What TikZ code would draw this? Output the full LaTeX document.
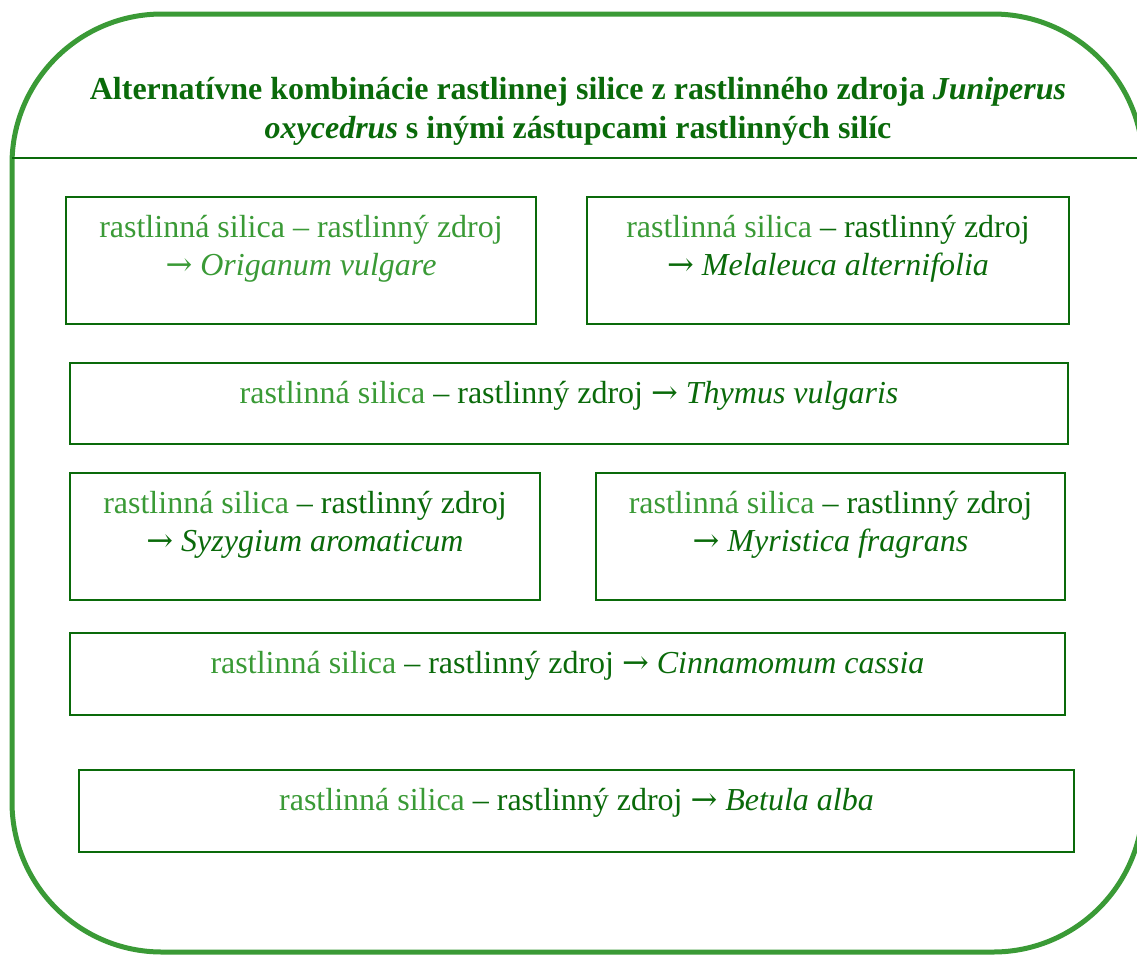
\documentclass[tikz,border=0pt]{standalone}
\usepackage{fontspec}
\setmainfont{Liberation Serif}
\newfontfamily\sipkafont{DejaVu Serif}
\newcommand{\sipka}{{\sipkafont →}}
\usetikzlibrary{positioning}
\definecolor{silicaGreen}{HTML}{3A9A36}
\definecolor{zdrojGreen}{HTML}{0A6A0A}

\begin{document}
\begin{tikzpicture}[x=1pt, y=-1pt,
    frame/.style={draw=silicaGreen, line width=5pt, rounded corners=150pt},
    kombobox/.style={draw=zdrojGreen, line width=1.6pt, inner sep=0pt},
    kombotext/.style={text=zdrojGreen, align=center, inner sep=0pt, font=\fontsize{32}{38}\selectfont},
    nadpis/.style={text=zdrojGreen, align=center, inner sep=0pt, font=\bfseries\fontsize{32}{39}\selectfont}]
    \useasboundingbox (0, 0) rectangle (1137, 956);
    \clip (0, 0) rectangle (1137, 956);

    % outer frame and title
    \draw[frame] (12, 14) rectangle (1143, 952);
    \draw[zdrojGreen, line width=1.6pt] (12, 158) -- (1137, 158);
    \node[nadpis] (titul) at (578, 111) {Alternatívne kombinácie rastlinnej silice z rastlinného zdroja \textit{Juniperus}\\ \textit{oxycedrus} s inými zástupcami rastlinných silíc};

    % boxes
    \node[kombobox, minimum width=470, minimum height=127] (origanum) at (301, 260.5) {};
    \node[kombobox, minimum width=482, minimum height=127] (melaleuca) at (828, 260.5) {};
    \node[kombobox, minimum width=998, minimum height=81] (thymus) at (569, 403.5) {};
    \node[kombobox, minimum width=470, minimum height=127] (syzygium) at (305, 536.5) {};
    \node[kombobox, minimum width=469, minimum height=127] (myristica) at (830.5, 536.5) {};
    \node[kombobox, minimum width=995, minimum height=82] (cinnamomum) at (567.5, 674) {};
    \node[kombobox, minimum width=995, minimum height=82] (betula) at (576.5, 811) {};

    % texts
    \node[kombotext, text=silicaGreen, below=19pt of origanum.north] (tOriganum) {rastlinná silica – rastlinný zdroj\\\sipka{} \textit{Origanum vulgare}};
    \node[kombotext, below=19pt of melaleuca.north] (tMelaleuca) {\textcolor{silicaGreen}{rastlinná silica} – rastlinný zdroj\\\sipka{} \textit{Melaleuca alternifolia}};
    \node[kombotext, below=19pt of thymus.north] (tThymus) {\textcolor{silicaGreen}{rastlinná silica} – rastlinný zdroj \sipka{} \textit{Thymus vulgaris}};
    \node[kombotext, below=19pt of syzygium.north] (tSyzygium) {\textcolor{silicaGreen}{rastlinná silica} – rastlinný zdroj\\\sipka{} \textit{Syzygium aromaticum}};
    \node[kombotext, below=19pt of myristica.north] (tMyristica) {\textcolor{silicaGreen}{rastlinná silica} – rastlinný zdroj\\\sipka{} \textit{Myristica fragrans}};
    \node[kombotext, below=19pt of cinnamomum.north] (tCinnamomum) {\textcolor{silicaGreen}{rastlinná silica} – rastlinný zdroj \sipka{} \textit{Cinnamomum cassia}};
    \node[kombotext, below=19pt of betula.north] (tBetula) {\textcolor{silicaGreen}{rastlinná silica} – rastlinný zdroj \sipka{} \textit{Betula alba}};
\end{tikzpicture}
\end{document}
